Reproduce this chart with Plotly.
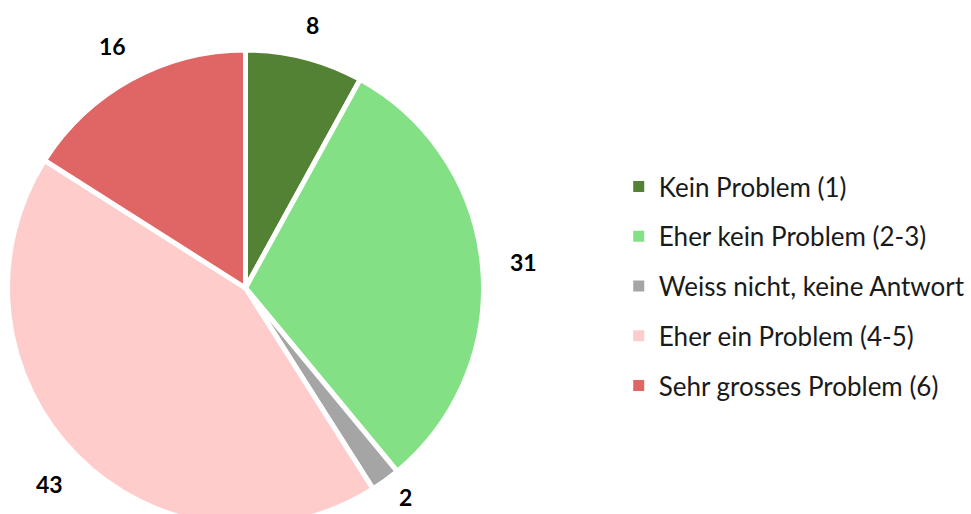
import math
import plotly.graph_objects as go

categories = ["Kein Problem (1)", "Eher kein Problem (2-3)", "Weiss nicht, keine Antwort",
              "Eher ein Problem (4-5)", "Sehr grosses Problem (6)"]
values = [8, 31, 2, 43, 16]
colors = ["#548235", "#84E085", "#A5A5A5", "#FFCCCC", "#E06666"]

W, H = 971, 530
cx, cy, r = 246, 288, 238.5  # pixel geometry of the pie (from top-left)
label_r = 272

fig = go.Figure()
fig.add_trace(go.Pie(
    labels=categories, values=values, sort=False, direction="clockwise", rotation=0,
    marker=dict(colors=colors, line=dict(color="white", width=5)),
    textinfo="none", hoverinfo="label+value", showlegend=False,
    domain=dict(x=[(cx - r) / W, (cx + r) / W], y=[(H - cy - r) / H, (H - cy + r) / H]),
))

# value labels positioned at each slice's mid-angle (wider labels sit a bit further out)
total = sum(values)
cum = 0
for v in values:
    mid = (cum + v / 2) / total * 2 * math.pi
    cum += v
    rr = label_r + 8 * (len(str(v)) - 1) * abs(math.sin(mid))
    px = cx + rr * math.sin(mid)
    py = min(cy - rr * math.cos(mid), 497)
    fig.add_annotation(x=px / W, y=1 - py / H, xref="paper", yref="paper",
                       xanchor="center", yanchor="middle",
                       text=f"<b>{v}</b>", showarrow=False,
                       font=dict(family="Lato", size=23, color="black"))

# legend entries
for i, (c, col) in enumerate(zip(categories, colors)):
    fig.add_trace(go.Scatter(x=[None], y=[None], mode="markers", name=c,
                             legendgroup=f"g{i}",
                             marker=dict(symbol="square", size=11, color=col)))

fig.update_layout(
    width=W, height=H, margin=dict(l=0, r=0, t=0, b=0),
    paper_bgcolor="white", plot_bgcolor="white",
    xaxis=dict(visible=False), yaxis=dict(visible=False),
    legend=dict(x=620 / W, y=1 - 163 / H, xanchor="left", yanchor="top",
                font=dict(family="Lato", size=26, color="#1a1a1a"),
                tracegroupgap=13, itemclick=False),
)

fig.write_html("out.html", config={"displayModeBar": False}, post_script=(
    "document.documentElement.style.overflow='hidden';"
    "document.body.style.overflow='hidden';"
    "document.body.style.margin='0';"))
